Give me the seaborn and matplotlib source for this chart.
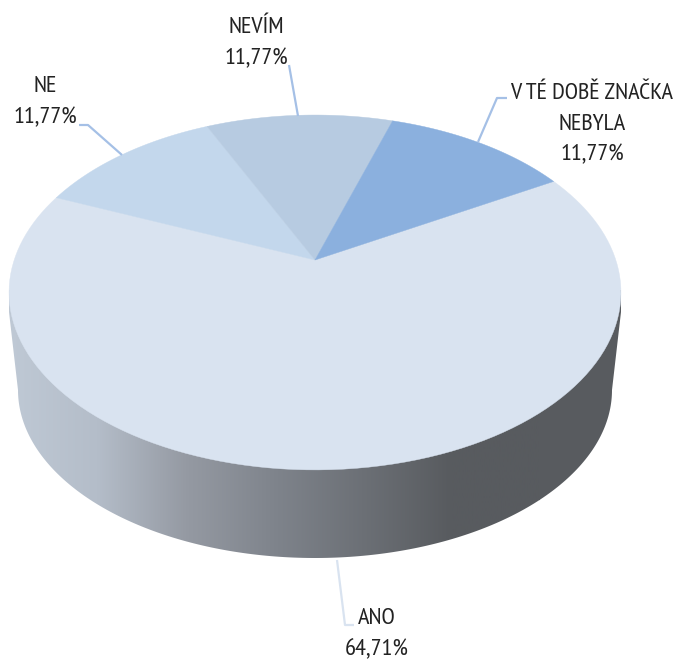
import numpy as np
import seaborn as sns
import matplotlib.pyplot as plt
from matplotlib.patches import Polygon

labels = ["ANO", "NE", "NEVÍM", "V TÉ DOBĚ ZNAČKA\nNEBYLA"]
values = [64.71, 11.77, 11.77, 11.77]
colors = ["#d9e3f0", "#c3d7ec", "#b7cbe1", "#8bb0de"]
side_colors = ["#bfc9d5", "#b4bdc9", "#959aa3", "#7f848c", "#6c7076", "#585b5f", "#585b5f"]

# label centres and leader lines, pixels
label_pos = [(377, 634), (45, 102), (256, 43), (592, 124)]
leaders = [
    ([337, 345, 354], [560, 625, 625], "#d9e3f0"),
    ([79, 88, 122], [125, 125, 155], "#a5c0e6"),
    ([289, 298], [65, 116], "#a5c0e6"),
    ([507, 497, 478], [98, 98, 142], "#a5c0e6"),
]

# perspective of the top face
CX, CY = 315, 260
K = 0.183
SX, SY = 300.8, 171.5
START = 60


def project(deg):
    a = np.radians(deg)
    x, y = np.sin(a), np.cos(a)
    return CX + SX * x / (1 + K * y), CY - SY * y / (1 + K * y)


sns.set_theme(style="white")
plt.rcParams["font.family"] = ["PT Sans Narrow", "Liberation Sans", "DejaVu Sans"]

fig = plt.figure(figsize=(6.75, 6.59), dpi=100)
ax = fig.add_axes([0, 0, 1, 1])

# side wall: lower arc of the base, closed up to the rim of the top face
t = np.linspace(0, 180, 200)
bx = 315 - 297 * np.cos(np.radians(t))
by = 390 + 168 * np.sin(np.radians(t))
wall = np.column_stack([np.r_[9, bx, 621], np.r_[312, by, 312]])
wall = np.vstack([wall, [621, 290], [9, 290]])
clip = Polygon(wall, transform=ax.transData, fc="none", ec="none")
ax.add_patch(clip)
cmap = sns.blend_palette(side_colors, as_cmap=True)
grad = np.linspace(0, 1, 256).reshape(1, -1)
im = ax.imshow(grad, cmap=cmap, extent=[8, 540, 659, 0], aspect="auto", zorder=1)
im.set_clip_path(clip)
# flat dark part to the right of the gradient
ax.fill_between([539, 675], 0, 659, color=side_colors[-1], lw=0, zorder=1).set_clip_path(clip)

ax.set_xlim(0, 675)
ax.set_ylim(659, 0)
ax.axis("off")

# top face, clockwise from START
edges = START + np.r_[0, np.cumsum(values)] / sum(values) * 360
for i in range(len(values)):
    a = np.linspace(edges[i], edges[i + 1], 120)
    px, py = project(a)
    ax.fill(np.r_[CX, px], np.r_[CY, py], color=colors[i], lw=0.3, zorder=2)

for xs, ys, c in leaders:
    ax.plot(xs, ys, color=c, lw=1.6, zorder=3, solid_capstyle="butt")

for lab, val, (x, y) in zip(labels, values, label_pos):
    txt = lab + "\n" + f"{val:.2f}".replace(".", ",") + "%"
    ax.text(x, y, txt, ha="center", va="center", fontsize=17.5, color="#222222",
            linespacing=1.6, zorder=4)

fig.savefig("out.png", dpi=100, facecolor="white")
plt.close(fig)
